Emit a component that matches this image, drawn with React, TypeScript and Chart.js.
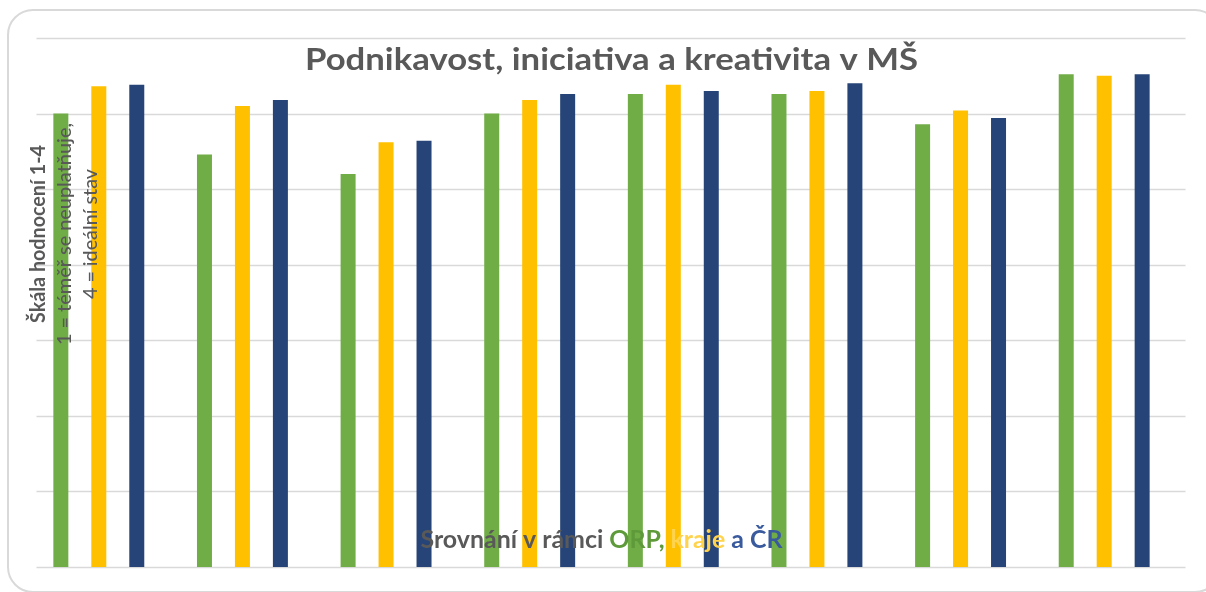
import React, { useEffect, useRef } from "react";
import { Chart, registerables } from "chart.js";

Chart.register(...registerables);

// ---- data ----
const categories = ["Oblast 1", "Oblast 2", "Oblast 3", "Oblast 4", "Oblast 5", "Oblast 6", "Oblast 7", "Oblast 8"];
const orpValues = [3.0, 2.73, 2.6, 3.0, 3.13, 3.13, 2.93, 3.26];
const krajValues = [3.18, 3.05, 2.81, 3.09, 3.19, 3.15, 3.02, 3.25];
const crValues = [3.19, 3.09, 2.82, 3.13, 3.15, 3.2, 2.97, 3.26];
const gridValues = [0, 0.5, 1, 1.5, 2, 2.5, 3, 3.5];

const chartTitle = "Podnikavost, iniciativa a kreativita v MŠ";
const yTitleLines = ["Škála hodnocení 1-4", "1 = téměř se neuplatňuje,", "4 = ideální stav"];
const xTitleParts = [
  { text: "Srovnání v rámci ", color: "#595959" },
  { text: "ORP, ", color: "#5E9A3A" },
  { text: "kraje ", color: "#FFD34D" },
  { text: "a ČR", color: "#3A5A9E" },
];

const GREEN = "#70AD47";
const YELLOW = "#FFC000";
const BLUE = "#264478";
const TEXT = "#595959";
const GRID = "#D9D9D9";

function drawFitted(
  ctx: CanvasRenderingContext2D,
  parts: { text: string; color: string }[],
  font: string,
  cx: number,
  baseY: number,
  targetW: number
) {
  ctx.save();
  ctx.font = font;
  ctx.textAlign = "left";
  ctx.textBaseline = "alphabetic";
  const widths = parts.map((p) => ctx.measureText(p.text).width);
  const total = widths.reduce((a, b) => a + b, 0);
  const sx = targetW / total;
  ctx.translate(cx, baseY);
  ctx.scale(sx, 1);
  let x = -total / 2;
  parts.forEach((p, i) => {
    ctx.fillStyle = p.color;
    ctx.fillText(p.text, x, 0);
    x += widths[i];
  });
  ctx.restore();
}

const gridPlugin = {
  id: "customGrid",
  beforeDatasetsDraw(chart: any) {
    const { ctx, chartArea, scales } = chart;
    const y = scales.y;
    ctx.save();
    ctx.strokeStyle = GRID;
    ctx.lineWidth = 1.5;
    gridValues.forEach((v) => {
      const py = Math.round(y.getPixelForValue(v)) + 0.5;
      ctx.beginPath();
      ctx.moveTo(chartArea.left + 9.5, py);
      ctx.lineTo(chartArea.right + 9.5, py);
      ctx.stroke();
    });
    ctx.restore();
  },
};

const textPlugin = {
  id: "customText",
  afterDraw(chart: any) {
    const { ctx, chartArea } = chart;
    const cx = (chartArea.left + chartArea.right) / 2;
    // chart title
    drawFitted(ctx, [{ text: chartTitle, color: TEXT }], "bold 31px Lato", cx + 10, chartArea.top + 32, 613);
    // x-axis title
    drawFitted(ctx, xTitleParts, "bold 25px Lato", cx, chartArea.bottom - 19, 362);
    // y-axis title (rotated)
    const centerY = 234;
    const baselines = [45, 71, 97];
    const fonts = ["bold 20px Lato", "500 20px Lato", "500 20px Lato"];
    const widths = [178, 222, 130];
    yTitleLines.forEach((line, i) => {
      ctx.save();
      ctx.translate(baselines[i], centerY);
      ctx.rotate(-Math.PI / 2);
      drawFitted(ctx, [{ text: line, color: TEXT }], fonts[i], 0, 0, widths[i]);
      ctx.restore();
    });
  },
};

export default function App() {
  const canvasRef = useRef<HTMLCanvasElement | null>(null);

  useEffect(() => {
    if (!canvasRef.current) return;
    const chart = new Chart(canvasRef.current, {
      type: "bar",
      data: {
        labels: categories,
        datasets: [
          { label: "ORP", data: orpValues, backgroundColor: GREEN },
          { label: "kraj", data: krajValues, backgroundColor: YELLOW },
          { label: "ČR", data: crValues, backgroundColor: BLUE },
        ],
      },
      options: {
        animation: false,
        responsive: true,
        maintainAspectRatio: false,
        layout: { padding: { left: 27, right: 30, top: 38, bottom: 25 } },
        datasets: {
          bar: { categoryPercentage: 0.793, barPercentage: 0.395 },
        },
        scales: {
          x: { display: false },
          y: { display: false, min: 0, max: 3.5 },
        },
        plugins: {
          legend: { display: false },
          title: { display: false },
          tooltip: { enabled: false },
        },
      },
      plugins: [gridPlugin, textPlugin],
    });
    return () => chart.destroy();
  }, []);

  return (
    <>
      <div
        style={{
          position: "fixed",
          left: 7,
          top: 9,
          width: 1210,
          height: 580,
          border: "2px solid #D9D9D9",
          borderRadius: 26,
          background: "#FFFFFF",
        }}
      />
      <div style={{ position: "fixed", left: 0, top: 0, width: 1206, height: 592 }}>
        <canvas ref={canvasRef} />
      </div>
    </>
  );
}
